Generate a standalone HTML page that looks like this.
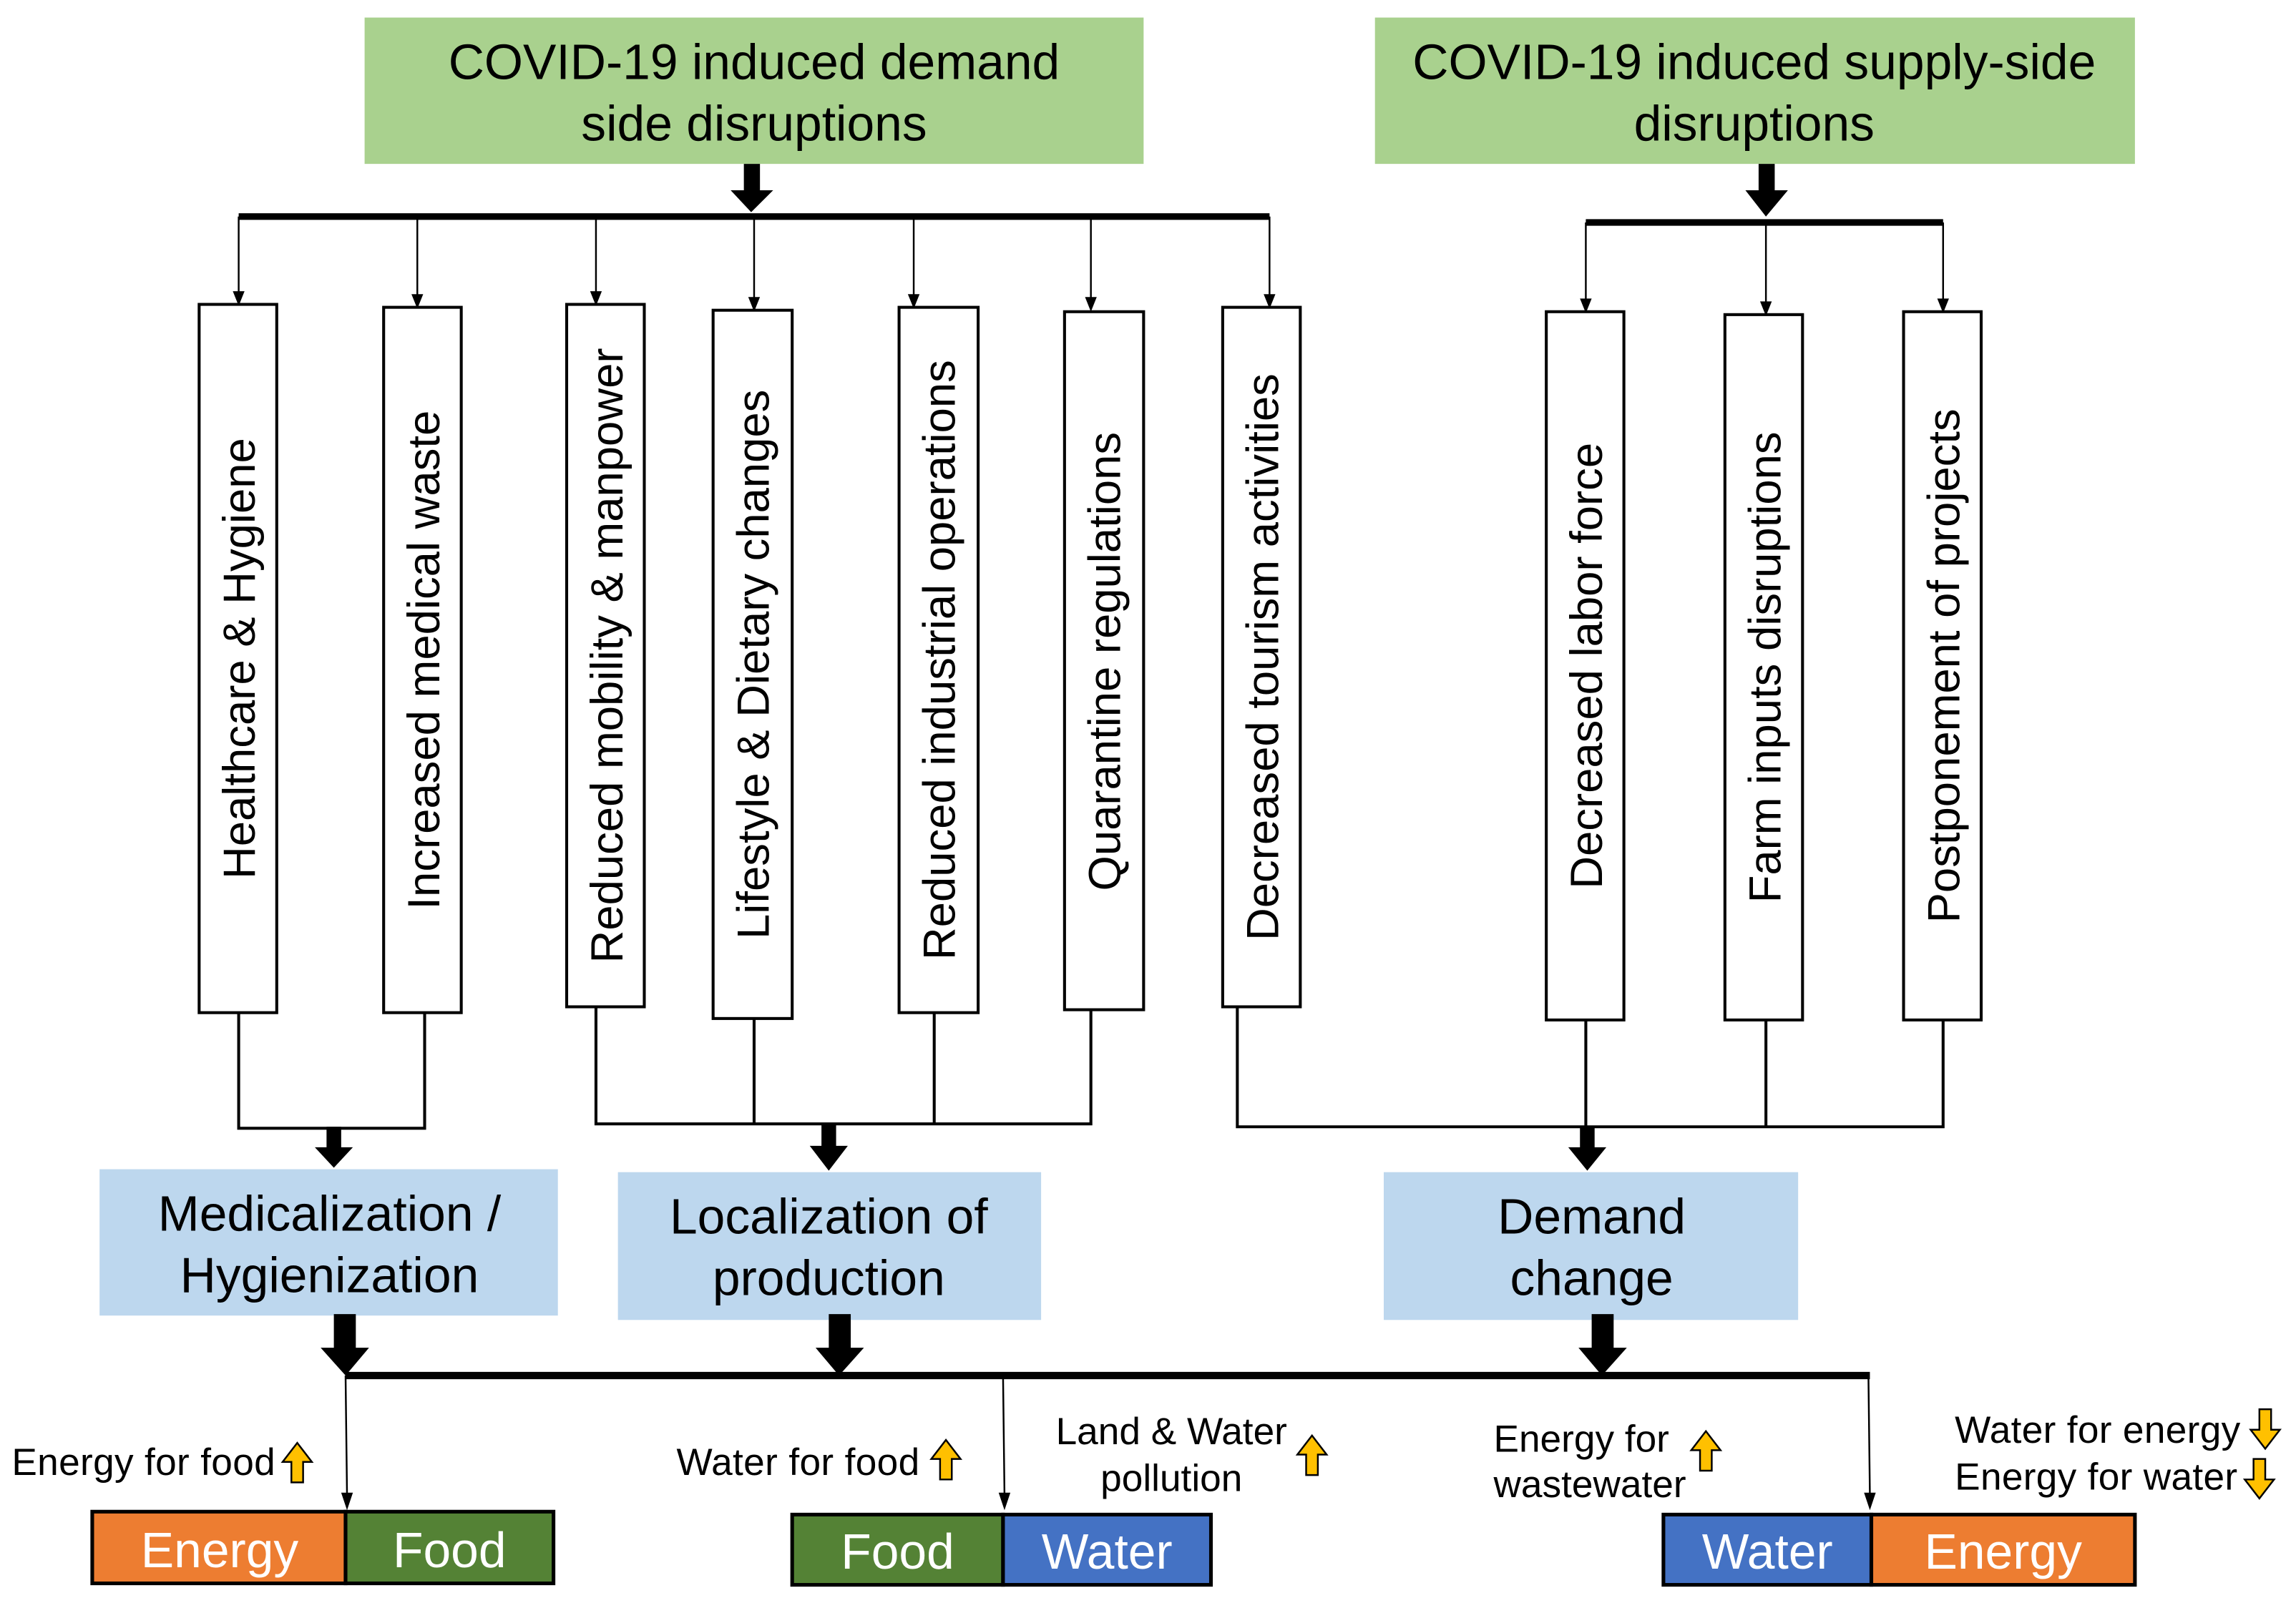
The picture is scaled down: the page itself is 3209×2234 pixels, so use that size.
<!DOCTYPE html>
<html><head><meta charset="utf-8"><style>
html,body{margin:0;padding:0;background:#fff}
svg{display:block}
text{font-family:"Liberation Sans",Arial,sans-serif}
</style></head><body>
<svg width="3209" height="2234" viewBox="0 0 1568 1092" preserveAspectRatio="none" xmlns="http://www.w3.org/2000/svg">
<!-- top green boxes -->
<rect x="249" y="12" width="532" height="100" fill="#a9d18e"/>
<text x="515" y="54" font-size="34" text-anchor="middle">COVID-19 induced  demand</text>
<text x="515" y="96" font-size="34" text-anchor="middle">side disruptions</text>
<rect x="939" y="12" width="519" height="100" fill="#a9d18e"/>
<text x="1198" y="54" font-size="34" text-anchor="middle">COVID-19 induced supply-side</text>
<text x="1198" y="96" font-size="34" text-anchor="middle">disruptions</text>

<g fill="#000">
<rect x="508" y="112" width="11" height="20"/><polygon points="499,130 528,130 513,145"/>
<rect x="1201" y="112" width="11" height="20"/><polygon points="1192,130 1221,130 1206,148"/>
</g>
<line x1="163" y1="148" x2="867" y2="148" stroke="#000" stroke-width="4.5"/>
<line x1="1083" y1="152" x2="1327" y2="152" stroke="#000" stroke-width="4.5"/>

<g stroke="#000" stroke-width="1.2" fill="#000">
<line x1="163" y1="148" x2="163" y2="200"/><polygon stroke="none" points="159,199 167,199 163,209"/>
<line x1="285" y1="148" x2="285" y2="202"/><polygon stroke="none" points="281,201 289,201 285,211"/>
<line x1="407" y1="148" x2="407" y2="200"/><polygon stroke="none" points="403,199 411,199 407,209"/>
<line x1="515" y1="150" x2="515" y2="204"/><polygon stroke="none" points="511,203 519,203 515,213"/>
<line x1="624" y1="148" x2="624" y2="202"/><polygon stroke="none" points="620,201 628,201 624,211"/>
<line x1="745" y1="148" x2="745" y2="204"/><polygon stroke="none" points="741,203 749,203 745,213"/>
<line x1="867" y1="148" x2="867" y2="202"/><polygon stroke="none" points="863,201 871,201 867,211"/>
<line x1="1083" y1="152" x2="1083" y2="205"/><polygon stroke="none" points="1079,204 1087,204 1083,214"/>
<line x1="1206" y1="152" x2="1206" y2="207"/><polygon stroke="none" points="1202,206 1210,206 1206,216"/>
<line x1="1327" y1="152" x2="1327" y2="205"/><polygon stroke="none" points="1323,204 1331,204 1327,214"/>
</g>

<g fill="#fff" stroke="#000" stroke-width="2">
<rect x="136" y="208" width="53" height="484"/>
<rect x="262" y="210" width="53" height="482"/>
<rect x="387" y="208" width="53" height="480"/>
<rect x="487" y="212" width="54" height="484"/>
<rect x="614" y="210" width="54" height="482"/>
<rect x="727" y="213" width="54" height="477"/>
<rect x="835" y="210" width="53" height="478"/>
<rect x="1056" y="213" width="53" height="484"/>
<rect x="1178" y="215" width="53" height="482"/>
<rect x="1300" y="213" width="53" height="484"/>
</g>
<g font-size="31" text-anchor="middle">
<text transform="translate(174,450) rotate(-90)">Healthcare &amp; Hygiene</text>
<text transform="translate(300,451) rotate(-90)">Increased medical waste</text>
<text transform="translate(425,448) rotate(-90)">Reduced mobility &amp; manpower</text>
<text transform="translate(525,454) rotate(-90)">Lifestyle &amp; Dietary changes</text>
<text transform="translate(652,451) rotate(-90)">Reduced industrial operations</text>
<text transform="translate(765,452) rotate(-90)">Quarantine regulations</text>
<text transform="translate(873,449) rotate(-90)">Decreased tourism activities</text>
<text transform="translate(1094,455) rotate(-90)">Decreased labor force</text>
<text transform="translate(1216,456) rotate(-90)">Farm inputs disruptions</text>
<text transform="translate(1338,455) rotate(-90)">Postponement of projects</text>
</g>

<g stroke="#000" stroke-width="2" fill="none">
<polyline points="163,692 163,771 290,771 290,692"/>
<polyline points="407,688 407,768 745,768 745,690"/>
<line x1="515" y1="696" x2="515" y2="768"/>
<line x1="638" y1="692" x2="638" y2="768"/>
<polyline points="845,688 845,770 1327,770 1327,697"/>
<line x1="1083" y1="697" x2="1083" y2="770"/>
<line x1="1206" y1="697" x2="1206" y2="770"/>
</g>
<g fill="#000">
<rect x="223" y="770" width="10" height="16"/><polygon points="215,784 241,784 228,798"/>
<rect x="561" y="768" width="10" height="17"/><polygon points="553,783 579,783 566,800"/>
<rect x="1079" y="770" width="10" height="16"/><polygon points="1071,784 1097,784 1084,800"/>
</g>

<rect x="68" y="799" width="313" height="100" fill="#bdd7ee"/>
<text x="225" y="841" font-size="34" text-anchor="middle">Medicalization  /</text>
<text x="225" y="883" font-size="34" text-anchor="middle">Hygienization</text>
<rect x="422" y="801" width="289" height="101" fill="#bdd7ee"/>
<text x="566" y="843" font-size="34" text-anchor="middle">Localization  of</text>
<text x="566" y="885" font-size="34" text-anchor="middle">production</text>
<rect x="945" y="801" width="283" height="101" fill="#bdd7ee"/>
<text x="1087" y="843" font-size="34" text-anchor="middle">Demand</text>
<text x="1087" y="885" font-size="34" text-anchor="middle">change</text>

<g fill="#000">
<rect x="228" y="898" width="15" height="25"/><polygon points="219,921 252,921 236,940"/>
<rect x="566" y="898" width="15" height="25"/><polygon points="557,921 590,921 573,940"/>
<rect x="1087" y="898" width="15" height="25"/><polygon points="1078,921 1111,921 1094,940"/>
</g>
<line x1="236" y1="940" x2="1277" y2="940" stroke="#000" stroke-width="5"/>
<g stroke="#000" stroke-width="1.2">
<line x1="236" y1="940" x2="237" y2="1022"/><line x1="685" y1="940" x2="686" y2="1022"/><line x1="1276" y1="940" x2="1277" y2="1022"/>
</g>
<g fill="#000">
<polygon points="233,1020 241,1020 237,1032"/>
<polygon points="682,1020 690,1020 686,1032"/>
<polygon points="1273,1020 1281,1020 1277,1032"/>
</g>

<g stroke="#000" stroke-width="2.5">
<rect x="63" y="1033" width="173" height="49" fill="#ed7d31"/>
<rect x="236" y="1033" width="142" height="49" fill="#548235"/>
<rect x="541" y="1035" width="144" height="48" fill="#548235"/>
<rect x="685" y="1035" width="142" height="48" fill="#4472c4"/>
<rect x="1136" y="1035" width="142" height="48" fill="#4472c4"/>
<rect x="1278" y="1035" width="180" height="48" fill="#ed7d31"/>
</g>
<g fill="#fff" font-size="34" text-anchor="middle">
<text x="150" y="1071">Energy</text>
<text x="307" y="1071">Food</text>
<text x="613" y="1072">Food</text>
<text x="756" y="1072">Water</text>
<text x="1207" y="1072">Water</text>
<text x="1368" y="1072">Energy</text>
</g>

<g font-size="26">
<text x="8" y="1008" textLength="180">Energy for food</text>
<text x="462" y="1008" textLength="166">Water for food</text>
<text x="800" y="987" text-anchor="middle">Land &amp; Water</text>
<text x="800" y="1019" text-anchor="middle">pollution</text>
<text x="1020" y="992">Energy for</text>
<text x="1020" y="1023">wastewater</text>
<text x="1335" y="986" textLength="195">Water for energy</text>
<text x="1335" y="1018" textLength="193">Energy for water</text>
</g>
<g fill="#ffc000" stroke="#000" stroke-width="1.2">
<polygon points="199,1013 207,1013 207,999 213,999 203,986 193,999 199,999"/>
<polygon points="642,1011 650,1011 650,997 656,997 646,984 636,997 642,997"/>
<polygon points="892,1008 900,1008 900,994 906,994 896,981 886,994 892,994"/>
<polygon points="1161,1005 1169,1005 1169,991 1175,991 1165,978 1155,991 1161,991"/>
<polygon points="1543,963 1551,963 1551,977 1557,977 1547,990 1537,977 1543,977"/>
<polygon points="1539,997 1547,997 1547,1011 1553,1011 1543,1024 1533,1011 1539,1011"/>
</g>
</svg>
</body></html>
